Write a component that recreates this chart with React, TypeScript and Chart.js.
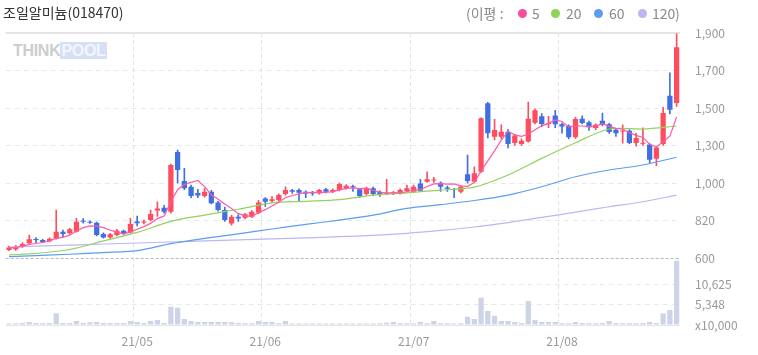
import React, { useEffect, useRef } from 'react';
import { Chart, registerables, LinearScale } from 'chart.js';

// ---- categories (trading days) ----
const aprDays = [6, 7, 8, 9, 12, 13, 14, 15, 16, 19, 20, 21, 22, 23, 26, 27, 28, 29, 30];
const mayDays = [3, 4, 6, 7, 10, 11, 12, 13, 14, 17, 18, 20, 21, 24, 25, 26, 27, 28, 31];
const junDays = [1, 2, 3, 4, 7, 8, 9, 10, 11, 14, 15, 16, 17, 18, 21, 22, 23, 24, 25, 28, 29, 30];
const julDays = [1, 2, 5, 6, 7, 8, 9, 12, 13, 14, 15, 16, 19, 20, 21, 22, 23, 26, 27, 28, 29, 30];
const augDays = [2, 3, 4, 5, 6, 9, 10, 11, 12, 13, 17, 18, 19, 20, 23, 24, 25, 26];
const monthLabels = ['21/05', '21/06', '21/07', '21/08'];

// ---- price series (OHLC) ----
const openP = [647, 651, 666, 686, 712, 705, 698, 715, 754, 745, 754, 816, 813, 807, 741, 721, 735, 760, 749, 814,
  808, 822, 868, 881, 862, 1248, 1016, 982, 952, 938, 958, 906, 870, 803, 838, 833, 838, 857, 926, 914,
  917, 947, 965, 966, 958, 955, 950, 970, 958, 966, 975, 985, 970, 947, 975, 957, 948, 950, 950, 962,
  958, 998, 1010, 1020, 1002, 978, 970, 958, 1070, 1010, 1090, 1525, 1347, 1347, 1374, 1313, 1308, 1322, 1422, 1456,
  1415, 1460, 1413, 1405, 1344, 1443, 1424, 1393, 1432, 1413, 1384, 1375, 1379, 1313, 1310, 1306, 1194, 1308, 1566, 1527];
const highP = [670, 675, 690, 735, 720, 710, 718, 870, 764, 774, 830, 829, 818, 811, 748, 745, 768, 764, 830, 841,
  822, 870, 910, 893, 1152, 1264, 1118, 990, 970, 975, 965, 912, 885, 845, 848, 855, 868, 917, 930, 935,
  948, 982, 970, 972, 962, 960, 970, 975, 972, 1000, 992, 990, 975, 980, 980, 962, 1030, 960, 972, 990,
  990, 1030, 1090, 1045, 1010, 985, 975, 988, 1224, 1130, 1448, 1530, 1440, 1410, 1385, 1360, 1335, 1532, 1495, 1470,
  1455, 1488, 1420, 1410, 1450, 1458, 1430, 1415, 1473, 1418, 1390, 1410, 1385, 1365, 1394, 1310, 1290, 1504, 1687, 1895];
const lowP = [643, 645, 662, 682, 690, 690, 694, 711, 725, 740, 751, 804, 803, 729, 716, 715, 730, 740, 745, 788,
  800, 818, 840, 855, 855, 1000, 968, 930, 930, 932, 900, 865, 815, 792, 815, 828, 834, 852, 888, 905,
  912, 942, 950, 915, 930, 940, 946, 952, 954, 962, 970, 960, 930, 942, 940, 936, 944, 944, 946, 958,
  954, 958, 1005, 1005, 960, 960, 930, 952, 1000, 1005, 1085, 1340, 1330, 1335, 1280, 1300, 1300, 1318, 1415, 1400,
  1395, 1395, 1366, 1335, 1338, 1415, 1380, 1385, 1405, 1365, 1349, 1312, 1310, 1295, 1300, 1160, 1138, 1300, 1468, 1509];
const closeP = [662, 666, 682, 710, 705, 694, 713, 754, 741, 768, 813, 812, 807, 735, 721, 739, 760, 745, 799, 804,
  814, 851, 878, 862, 1144, 1104, 975, 938, 940, 958, 903, 870, 822, 838, 830, 850, 862, 906, 910, 922,
  942, 966, 958, 953, 950, 950, 966, 958, 966, 995, 987, 978, 938, 975, 947, 942, 952, 955, 966, 975,
  982, 963, 1030, 1028, 982, 972, 966, 982, 1016, 1078, 1445, 1365, 1383, 1374, 1308, 1354, 1326, 1443, 1488, 1415,
  1420, 1413, 1402, 1344, 1442, 1420, 1397, 1411, 1409, 1372, 1366, 1380, 1313, 1340, 1315, 1186, 1285, 1473, 1491, 1824];

// ---- moving averages ----
const ma5 = [659, 662, 668, 680, 685, 691, 701, 715, 721, 734, 758, 778, 788, 787, 778, 763, 752, 740, 753, 769,
  784, 803, 829, 842, 910, 968, 993, 1005, 1020, 983, 943, 922, 899, 878, 853, 842, 840, 857, 872, 890,
  908, 929, 940, 948, 954, 955, 955, 955, 958, 967, 974, 977, 973, 975, 965, 956, 951, 954, 952, 958,
  966, 968, 983, 996, 997, 995, 996, 986, 984, 1003, 1097, 1177, 1257, 1329, 1375, 1357, 1349, 1361, 1384, 1405,
  1418, 1436, 1428, 1399, 1404, 1404, 1401, 1403, 1416, 1402, 1391, 1388, 1368, 1354, 1343, 1307, 1288, 1320, 1350, 1452];
const maNodeIdx = [0, 4, 9, 14, 19, 24, 29, 34, 39, 44, 49, 54, 59, 64, 69, 74, 79, 84, 89, 94, 99];
const ma20 = [618, 627, 650, 700, 750, 815, 846, 874, 905, 912, 920, 942, 953, 966, 980, 1064, 1197, 1315, 1388, 1388, 1404];
const ma60 = [608, 614, 622, 632, 643, 684, 715, 742, 770, 797, 822, 846, 878, 896, 916, 942, 982, 1050, 1104, 1144, 1206];
const ma120 = [664, 670, 676, 682, 688, 694, 700, 706, 712, 718, 725, 733, 745, 762, 782, 808, 835, 860, 886, 910, 942];

// ---- volume ----
const volume = [400, 450, 500, 780, 500, 450, 500, 3030, 500, 550, 1040, 500, 700, 780, 500, 550, 520, 500, 1040, 780,
  520, 1040, 1300, 520, 4750, 4490, 1555, 1040, 780, 780, 780, 780, 780, 700, 500, 450, 450, 1040, 780, 780,
  450, 1040, 400, 400, 400, 400, 380, 380, 380, 380, 380, 380, 380, 380, 400, 450, 600, 780, 450, 450,
  400, 780, 450, 1040, 450, 450, 400, 450, 2160, 1555, 7090, 3630, 2420, 1040, 1040, 780, 500, 6220, 1300, 780,
  780, 780, 450, 450, 780, 500, 450, 450, 500, 1040, 500, 450, 450, 450, 520, 780, 500, 3030, 3890, 16660];

// ---- tick labels ----
const priceTicks = [600, 820, 1000, 1300, 1500, 1700, 1900];
const volTicks = [0, 5348, 10625];
const volMax = 17363;
const volUnitLabel = 'x10,000';

const FONT = "'Noto Sans CJK KR', 'Noto Sans', sans-serif";
const UP = '#fd4d5f';
const DOWN = '#3f70e2';
const C5 = '#ff5aa6';
const C20 = '#92d35f';
const C60 = '#5c9df0';
const C120 = '#bab7f1';

const pad = (d: number) => (d < 10 ? '0' + d : '' + d);
const dates = [
  ...aprDays.map((d) => `2021-04-${pad(d)}`),
  ...mayDays.map((d) => `2021-05-${pad(d)}`),
  ...junDays.map((d) => `2021-06-${pad(d)}`),
  ...julDays.map((d) => `2021-07-${pad(d)}`),
  ...augDays.map((d) => `2021-08-${pad(d)}`),
];
const monthStartIdx = [
  aprDays.length,
  aprDays.length + mayDays.length,
  aprDays.length + mayDays.length + junDays.length,
  aprDays.length + mayDays.length + junDays.length + julDays.length,
];

// Price axis with evenly spaced, non-uniform tick values (piecewise linear)
class StepPriceScale extends (LinearScale as any) {
  static id = 'stepPrice';
  static defaults = (LinearScale as any).defaults;
  toFraction(v: number) {
    const t = priceTicks;
    const n = t.length - 1;
    if (v <= t[0]) return (v - t[0]) / (t[1] - t[0]) / n;
    for (let k = 0; k < n; k++) {
      if (v <= t[k + 1]) return (k + (v - t[k]) / (t[k + 1] - t[k])) / n;
    }
    return (n + (v - t[n]) / (t[n] - t[n - 1])) / n;
  }
  getPixelForValue(value: number) {
    if (value === null || value === undefined || isNaN(value)) return NaN;
    return (this as any).getPixelForDecimal(this.toFraction(value));
  }
  getValueForPixel(pixel: number) {
    const f = (this as any).getDecimalForPixel(pixel) * (priceTicks.length - 1);
    const k = Math.max(0, Math.min(priceTicks.length - 2, Math.floor(f)));
    return priceTicks[k] + (f - k) * (priceTicks[k + 1] - priceTicks[k]);
  }
  buildTicks() {
    return priceTicks.map((v) => ({ value: v }));
  }
}

Chart.register(...registerables, StepPriceScale as any);

const fmt = (v: number) => Number(v).toLocaleString('en-US');

export default function App() {
  const ref = useRef<HTMLCanvasElement>(null);

  useEffect(() => {
    document.body.style.margin = '0';
    const candleColors = openP.map((o, i) => (closeP[i] >= o ? UP : DOWN));
    const lineNodes = (vals: number[]) => maNodeIdx.map((idx, k) => ({ x: dates[idx], y: vals[k] }));

    const chart = new Chart(ref.current as HTMLCanvasElement, {
      type: 'bar',
      data: {
        labels: dates,
        datasets: [
          {
            type: 'line', label: 'MA5', data: ma5, yAxisID: 'y', borderColor: C5, borderWidth: 1.2,
            pointRadius: 0, tension: 0, order: 0,
          } as any,
          {
            type: 'line', label: 'MA20', data: lineNodes(ma20), yAxisID: 'y', borderColor: C20, borderWidth: 1.2,
            pointRadius: 0, tension: 0.3, spanGaps: true, order: 0,
          } as any,
          {
            type: 'line', label: 'MA60', data: lineNodes(ma60), yAxisID: 'y', borderColor: C60, borderWidth: 1.2,
            pointRadius: 0, tension: 0.3, spanGaps: true, order: 0,
          } as any,
          {
            type: 'line', label: 'MA120', data: lineNodes(ma120), yAxisID: 'y', borderColor: C120, borderWidth: 1.2,
            pointRadius: 0, tension: 0.3, spanGaps: true, order: 0,
          } as any,
          {
            type: 'bar', label: 'body', data: openP.map((o, i) => [o, closeP[i]]), yAxisID: 'y',
            backgroundColor: candleColors, borderWidth: 0, borderSkipped: false, grouped: false,
            barPercentage: 0.78, categoryPercentage: 1, minBarLength: 1, order: 1,
          } as any,
          {
            type: 'bar', label: 'wick', data: lowP.map((l, i) => [l, highP[i]]), yAxisID: 'y',
            backgroundColor: candleColors, borderWidth: 0, borderSkipped: false, grouped: false,
            barThickness: 1, order: 2,
          } as any,
          {
            type: 'bar', label: 'volume', data: volume, yAxisID: 'vol', backgroundColor: '#cdd4e8',
            borderWidth: 0, grouped: false, barPercentage: 0.78, categoryPercentage: 1, order: 3,
          } as any,
        ],
      },
      options: {
        responsive: false,
        animation: false,
        devicePixelRatio: 1,
        layout: { padding: { left: 5, top: 33, right: 0, bottom: 0 } },
        plugins: { legend: { display: false }, tooltip: { enabled: false }, title: { display: false } },
        scales: {
          x: {
            type: 'category',
            offset: true,
            grid: {
              offset: true,
              drawTicks: false,
              color: (c: any) => (monthStartIdx.includes(c.index) ? '#e2e2e2' : 'rgba(0,0,0,0)'),
            },
            border: { display: false, dash: [4, 3] },
            ticks: {
              autoSkip: false,
              maxRotation: 0,
              minRotation: 0,
              padding: 9,
              color: '#999',
              font: { family: FONT, size: 12 },
              callback: (_v: any, i: number) => {
                const k = monthStartIdx.indexOf(i);
                return k >= 0 ? monthLabels[k] : '';
              },
            },
            afterFit: (s: any) => { s.height = 30; },
          },
          y: {
            type: 'stepPrice' as any,
            position: 'right',
            stack: 'main',
            stackWeight: 225,
            min: 600,
            max: 1900,
            grid: {
              drawTicks: false,
              color: (c: any) => (c.index === 0 ? '#b9b9b9' : c.index === priceTicks.length - 1 ? '#e4e4e4' : '#e9e9e9'),
              lineWidth: (c: any) => (c.index === priceTicks.length - 1 ? 2 : 1),
            },
            border: {
              display: false,
              dash: (c: any) => (c.index === 0 ? [3, 2] : c.index === priceTicks.length - 1 ? [] : [5, 4]),
            },
            ticks: {
              padding: 15,
              color: '#999',
              font: { family: FONT, size: 12 },
              callback: (v: any) => fmt(v),
            },
            afterFit: (s: any) => { s.width = 78; },
          } as any,
          vol: {
            type: 'linear',
            position: 'right',
            stack: 'main',
            stackWeight: 67,
            min: 0,
            max: volMax,
            afterBuildTicks: (s: any) => { s.ticks = volTicks.map((v) => ({ value: v })); },
            grid: {
              drawTicks: false,
              color: (c: any) => (c.index === 0 ? '#e6e6e6' : '#e9e9e9'),
            },
            border: { display: false, dash: (c: any) => (c.index === 0 ? [] : [5, 4]) },
            ticks: {
              padding: 15,
              color: '#999',
              font: { family: FONT, size: 12 },
              callback: (v: any) => (Number(v) === 0 ? volUnitLabel : fmt(v)),
            },
            afterFit: (s: any) => { s.width = 78; },
          } as any,
        },
      } as any,
    });
    return () => chart.destroy();
  }, []);

  const legendText: React.CSSProperties = { position: 'absolute', top: 3, fontSize: 14, lineHeight: '20px', color: '#8a8a8a', whiteSpace: 'nowrap' };
  const dot = (left: number, color: string): React.CSSProperties => ({
    position: 'absolute', left, top: 9, width: 9, height: 9, borderRadius: '50%', background: color,
  });

  return (
    <div style={{ position: 'relative', width: 758, height: 355, overflow: 'hidden', background: '#fff', fontFamily: FONT }}>
      <div style={{ position: 'absolute', left: 13, top: 42, fontFamily: "'Liberation Sans', Arial, sans-serif", fontWeight: 900, fontSize: 16, lineHeight: '17px', letterSpacing: -0.3, whiteSpace: 'nowrap' }}>
        <span style={{ color: '#cdcdcd' }}>THINK</span>
        <span style={{ color: '#f3f6fc', background: '#d6e0f4', padding: '0 1px' }}>POOL</span>
      </div>
      <canvas ref={ref} width={758} height={355} style={{ position: 'absolute', left: 0, top: 0, width: 758, height: 355 }} />
      <div style={{ position: 'absolute', left: 3, top: 2, fontSize: 14, lineHeight: '20px', color: '#333', whiteSpace: 'nowrap' }}>
        조일알미늄(018470)
      </div>
      <span style={{ ...legendText, left: 466 }}>(이평 :</span>
      <span style={dot(518, '#f74f9e')} />
      <span style={{ ...legendText, left: 532 }}>5</span>
      <span style={dot(551, '#8ed35a')} />
      <span style={{ ...legendText, left: 566 }}>20</span>
      <span style={dot(594, '#5c9df2')} />
      <span style={{ ...legendText, left: 609 }}>60</span>
      <span style={dot(638, '#b9b6f1')} />
      <span style={{ ...legendText, left: 652 }}>120</span>
      <span style={{ ...legendText, left: 675 }}>)</span>
    </div>
  );
}
